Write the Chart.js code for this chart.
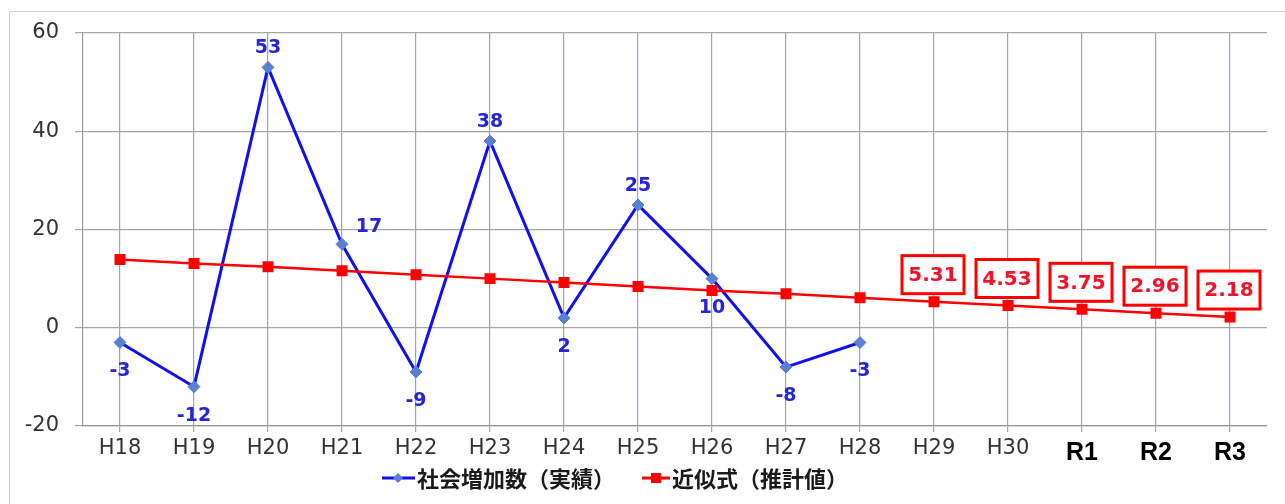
<!DOCTYPE html>
<html>
<head>
<meta charset="utf-8">
<script src="https://cdn.jsdelivr.net/npm/chart.js@4.4.0/dist/chart.umd.min.js"></script>
<style>
  html, body { margin: 0; padding: 0; background: #fff; }
  #frame { position: absolute; left: 9px; top: 11px; width: 1300px; height: 520px; border: 1px solid #cfcfcf; }
  #wrap { position: absolute; left: 0; top: 0; width: 1285px; height: 504px; }
</style>
</head>
<body>
<div id="frame"></div>
<div id="wrap"><canvas id="popChart" width="1285" height="504"></canvas></div>
<script>
// categories (H = 平成, R = 令和)
var years = ["H18", "H19", "H20", "H21", "H22", "H23", "H24", "H25", "H26", "H27", "H28", "H29", "H30", "R1", "R2", "R3"];
// 社会増加数(実績)
var actual = [-3, -12, 53, 17, -9, 38, 2, 25, 10, -8, -3, null, null, null, null, null];
// 近似式(推計値)
var trend = [13.9, 13.1, 12.4, 11.6, 10.8, 10.0, 9.2, 8.4, 7.6, 6.9, 6.1, 5.31, 4.53, 3.75, 2.96, 2.18];
// y axis ticks
var yTicks = [-20, 0, 20, 40, 60];

// where each actual value label sits
var actualLabelPos = ["below", "below", "above", "right", "below", "above", "below", "above", "below", "below", "below"];

var labelPlugin = {
    id: "valueLabels",
    afterDatasetsDraw: function (chart) {
        var ctx = chart.ctx;
        ctx.save();
        // blue labels
        var m0 = chart.getDatasetMeta(0);
        ctx.font = "bold 19px 'DejaVu Sans', sans-serif";
        ctx.fillStyle = "#2626d6";
        ctx.textAlign = "center";
        ctx.textBaseline = "middle";
        m0.data.forEach(function (pt, i) {
            if (actual[i] == null) return;
            var pos = actualLabelPos[i];
            var x = pt.x, y = pt.y;
            if (pos === "below") y += 29;
            else if (pos === "above") y -= 19;
            else { x += 27; y -= 17; }
            ctx.fillText(String(actual[i]), x, y);
        });
        // red boxed labels for forecast years
        var m1 = chart.getDatasetMeta(1);
        ctx.font = "bold 20px 'DejaVu Sans', sans-serif";
        m1.data.forEach(function (pt, i) {
            if (actual[i] != null) return;
            var cx = pt.x - 1, cy = pt.y - 27;
            ctx.fillStyle = "#fff";
            ctx.fillRect(cx - 31, cy - 19, 62, 38);
            ctx.strokeStyle = "#ff0000";
            ctx.lineWidth = 3;
            ctx.strokeRect(cx - 31, cy - 19, 62, 38);
            ctx.fillStyle = "#f0142a";
            ctx.fillText(trend[i].toFixed(2), cx, cy + 1);
        });
        ctx.restore();
    },
    afterDraw: function (chart) {
        // legend
        var ctx = chart.ctx;
        var ly = 478;
        ctx.save();
        ctx.lineWidth = 3;
        ctx.strokeStyle = "#1010f0";
        ctx.beginPath(); ctx.moveTo(382, ly); ctx.lineTo(415, ly); ctx.stroke();
        ctx.fillStyle = "#5b80d2";
        ctx.beginPath();
        ctx.moveTo(398, ly - 5); ctx.lineTo(403, ly); ctx.lineTo(398, ly + 5); ctx.lineTo(393, ly);
        ctx.closePath(); ctx.fill();
        ctx.strokeStyle = "#ff0000";
        ctx.beginPath(); ctx.moveTo(642, ly); ctx.lineTo(670, ly); ctx.stroke();
        ctx.fillStyle = "#ff0000";
        ctx.fillRect(651, ly - 5, 10, 10);
        ctx.fillStyle = "#1a1a1a";
        ctx.font = "bold 22px 'Noto Sans CJK JP', sans-serif";
        ctx.textAlign = "left";
        ctx.textBaseline = "middle";
        ctx.fillText("社会増加数（実績）", 417, ly + 1);
        ctx.fillText("近似式（推計値）", 672, ly + 1);
        ctx.restore();
    }
};

var ctx = document.getElementById("popChart");
var myChart = new Chart(ctx, {
    type: "line",
    data: {
        labels: years,
        datasets: [
            {
                label: "社会増加数(実績)",
                data: actual,
                borderColor: "#1010f0",
                borderWidth: 3,
                pointStyle: "rectRot",
                pointRadius: 6,
                pointBackgroundColor: "#5b80d2",
                pointBorderColor: "#5b80d2",
                pointBorderWidth: 1,
                spanGaps: false,
                order: 1,
            },
            {
                label: "近似式(推計値)",
                data: trend,
                borderColor: "#ff0000",
                borderWidth: 2.5,
                pointStyle: "rect",
                pointRadius: 6,
                pointBackgroundColor: "#ff0000",
                pointBorderColor: "#ff0000",
                order: 0,
            },
        ],
    },
    options: {
        responsive: false,
        animation: false,
        layout: { padding: { top: 33, left: 0, right: 18, bottom: 0 } },
        plugins: {
            legend: { display: false },
            tooltip: { enabled: false },
        },
        scales: {
            x: {
                offset: true,
                grid: { color: "#8fa6cc", lineWidth: 1.2, tickLength: 6 },
                border: { display: true, color: "#9a9a9a", width: 1.2 },
                ticks: {
                    padding: 4,
                    maxRotation: 0,
                    autoSkip: false,
                    color: function (c) { return years[c.index] && years[c.index][0] === "R" ? "#000" : "#333"; },
                    font: function (c) {
                        if (years[c.index] && years[c.index][0] === "R") {
                            return { family: "'Liberation Sans Narrow', 'Arial Narrow', sans-serif", size: 25, weight: "bold", lineHeight: "34px" };
                        }
                        return { family: "'DejaVu Sans', sans-serif", size: 21, lineHeight: "26px" };
                    },
                },
                afterFit: function (s) { s.height = 78; },
            },
            y: {
                min: -20,
                max: 60,
                afterBuildTicks: function (s) { s.ticks = yTicks.map(function (v) { return { value: v }; }); },
                grid: { color: "#a6a6a6", lineWidth: 1.2, tickLength: 8 },
                border: { display: true, color: "#9a9a9a", width: 1.2 },
                ticks: {
                    padding: 16,
                    color: "#333",
                    font: { family: "'DejaVu Sans', sans-serif", size: 21 },
                },
                afterFit: function (s) { s.width = 83; },
            },
        },
    },
    plugins: [labelPlugin],
});
</script>
</body>
</html>
